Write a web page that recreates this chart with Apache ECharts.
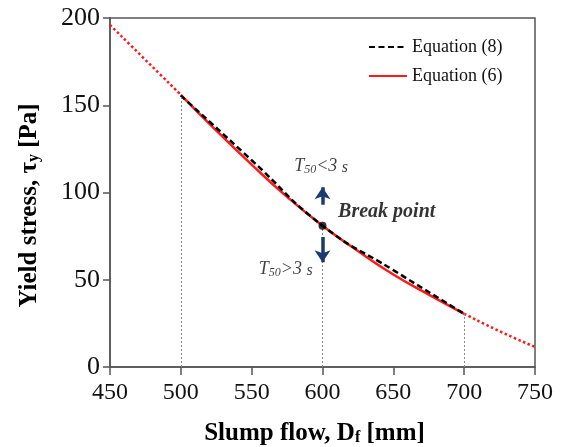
<!DOCTYPE html>
<html>
<head>
<meta charset="utf-8">
<script src="https://cdn.jsdelivr.net/npm/echarts@6/dist/echarts.min.js"></script>
<style>
html,body{margin:0;padding:0;background:#fff;}
#c{width:564px;height:447px;}
</style>
</head>
<body>
<div id="c"></div>
<script>
// ---- data ----
const xTicks = [450, 500, 550, 600, 650, 700, 750];
const yTicks = [0, 50, 100, 150, 200];
// Equation (6): red curve (dotted extrapolations on both ends)
const eq6LeftX = [450, 475, 500];
const eq6LeftY = [196, 176, 156];
const eq6MidX = [500, 525, 550, 575, 600, 625, 650, 675, 700];
const eq6MidY = [156, 135.5, 116, 97.5, 81, 66.5, 53, 41.5, 30.5];
const eq6RightX = [700, 725, 750];
const eq6RightY = [30.5, 20.5, 11.5];
// Equation (8): black dashed
const eq8X = [500, 550, 600, 650, 700];
const eq8Y = [155.5, 118.5, 81, 55.5, 30.5];
// break point
const breakX = [600];
const breakY = [81];
// vertical guide lines (x, top y)
const guideX = [500, 600, 700];
const guideY = [155.5, 81, 30.5];
// arrows [x, from, to]
const arrowUp = [600, 93, 103];
const arrowDown = [600, 74.5, 60];
// annotation text positions (left edge, vertical centre)
const annoX = [580, 611, 555];
const annoY = [116, 89, 57];

const zip = (xs, ys) => xs.map((x, i) => [x, ys[i]]);
const serif = 'Liberation Serif';
const navy = '#1b3a72';

const chart = echarts.init(document.getElementById('c'));
chart.setOption({
  animation: false,
  grid: { left: 110, right: 29, top: 18, bottom: 80, outerBoundsMode: 'none', containLabel: false,
    show: true, borderColor: '#555', borderWidth: 1.5, backgroundColor: 'transparent' },
  legend: {
    orient: 'vertical', left: 363, top: 33, itemWidth: 38, itemHeight: 10, itemGap: 11,
    data: ['Equation (8)', 'Equation (6)'],
    itemStyle: { opacity: 0 },
    textStyle: { fontFamily: serif, fontSize: 18, color: '#111' }
  },
  xAxis: {
    type: 'value', min: 450, max: 750, interval: 50,
    name: '{b|Slump flow, D}{s|f}{b| [mm]}', nameLocation: 'middle', nameGap: 51,
    nameTextStyle: { padding: [0, 16, 0, 0], rich: {
      b: { fontFamily: serif, fontWeight: 'bold', fontSize: 25, color: '#000', lineHeight: 28, verticalAlign: 'bottom' },
      s: { fontFamily: serif, fontWeight: 'bold', fontSize: 16, color: '#000', lineHeight: 22, verticalAlign: 'bottom' }
    }},
    axisLine: { lineStyle: { color: '#555', width: 1.5 } },
    axisTick: { inside: false, length: 8, lineStyle: { color: '#555', width: 1.5 } },
    axisLabel: { fontFamily: serif, fontSize: 24, color: '#111', margin: 14,
      formatter: v => xTicks.includes(v) ? String(v) : '' },
    splitLine: { show: false }
  },
  yAxis: {
    type: 'value', min: 0, max: 200, interval: 50,
    name: '{b|Yield stress, τ}{s|y}{b| [Pa]}', nameLocation: 'middle', nameGap: 68, nameRotate: 90,
    nameTextStyle: { padding: [0, 26, 0, 0], rich: {
      b: { fontFamily: serif, fontWeight: 'bold', fontSize: 25, color: '#000', lineHeight: 28, verticalAlign: 'bottom' },
      s: { fontFamily: serif, fontWeight: 'bold', fontSize: 16, color: '#000', lineHeight: 22, verticalAlign: 'bottom' }
    }},
    axisLine: { show: true, lineStyle: { color: '#555', width: 1.5 } },
    axisTick: { show: true, inside: false, length: 7, lineStyle: { color: '#555', width: 1.5 } },
    axisLabel: { fontFamily: serif, fontSize: 26, color: '#111', margin: 10,
      formatter: v => yTicks.includes(v) ? String(v) : '' },
    splitLine: { show: false }
  },
  series: [
    {
      name: 'Equation (6) left', type: 'line', smooth: true, symbol: 'none', silent: true,
      data: zip(eq6LeftX, eq6LeftY),
      lineStyle: { color: '#ff1a1a', width: 2.5, type: [2.5, 2.5] },
      markLine: {
        silent: true, symbol: ['none', 'none'], label: { show: false },
        lineStyle: { color: '#888', width: 1, type: [2, 2] },
        data: guideX.map((x, i) => [{ coord: [x, 0] }, { coord: [x, guideY[i]] }])
      }
    },
    {
      name: 'Equation (6) right', type: 'line', smooth: true, symbol: 'none', silent: true,
      data: zip(eq6RightX, eq6RightY),
      lineStyle: { color: '#ff1a1a', width: 2.5, type: [2.5, 2.5] }
    },
    {
      name: 'Equation (6)', type: 'line', smooth: true, symbol: 'none', silent: true,
      data: zip(eq6MidX, eq6MidY),
      itemStyle: { color: '#ff1a1a' },
      lineStyle: { color: '#ff1a1a', width: 2.5 }
    },
    {
      name: 'Equation (8)', type: 'line', smooth: true, symbol: 'none', silent: true,
      data: zip(eq8X, eq8Y),
      itemStyle: { color: '#000' },
      lineStyle: { color: '#000', width: 2.5, type: [6, 3.5] }
    },
    {
      name: 'arrows', type: 'line', data: [], silent: true,
      markLine: {
        silent: true, symbol: ['none', 'arrow'], symbolSize: [12, 12], label: { show: false },
        lineStyle: { color: navy, width: 3.5, type: 'solid' },
        data: [
          [{ coord: [arrowUp[0], arrowUp[1]] }, { coord: [arrowUp[0], arrowUp[2]] }],
          [{ coord: [arrowDown[0], arrowDown[1]] }, { coord: [arrowDown[0], arrowDown[2]] }]
        ]
      }
    },
    {
      name: 'break', type: 'scatter', silent: true, symbolSize: 8,
      itemStyle: { color: '#000' },
      data: zip(breakX, breakY), z: 5
    },
    {
      name: 'annotations', type: 'scatter', silent: true, symbolSize: 0,
      data: [
        { value: [annoX[0], annoY[0]], label: { formatter: '{i|T}{sub|50}{i|<3 }{si|s}' } },
        { value: [annoX[1], annoY[1]], label: { formatter: '{bi|Break point}' } },
        { value: [annoX[2], annoY[2]], label: { formatter: '{i|T}{sub|50}{i|>3 }{si|s}' } }
      ],
      label: {
        show: true, position: 'right', distance: 0, color: '#111',
        rich: {
          i: { fontFamily: serif, fontStyle: 'italic', fontSize: 18, color: '#111', lineHeight: 22, verticalAlign: 'bottom' },
          si: { fontFamily: serif, fontStyle: 'italic', fontSize: 16, color: '#111', lineHeight: 22, verticalAlign: 'bottom' },
          sub: { fontFamily: serif, fontStyle: 'italic', fontSize: 12, color: '#111', lineHeight: 16, verticalAlign: 'bottom' },
          bi: { fontFamily: serif, fontStyle: 'italic', fontWeight: 'bold', fontSize: 20, color: '#000' }
        }
      }
    }
  ]
});
</script>
</body>
</html>
